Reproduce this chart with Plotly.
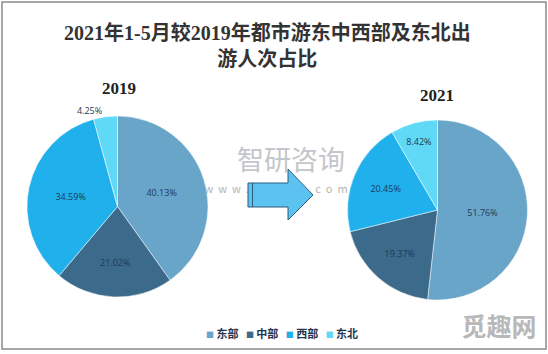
import plotly.graph_objects as go

# ---- data ----
regions = ["东部", "中部", "西部", "东北"]
share_2019 = [40.13, 21.02, 34.59, 4.25]
share_2021 = [51.76, 19.37, 20.45, 8.42]
years = ["2019", "2021"]
colors = ["#68a5c8", "#3c6a8b", "#20b0ec", "#60d9f6"]
title_text = "2021年1-5月较2019年都市游东中西部及东北出<br>游人次占比"

W, H = 548, 354


def px(x):
    return x / W


def py(y):
    return 1 - y / H


label_font = dict(family="Open Sans, Liberation Sans, sans-serif", size=9, color="#1d3a56")

fig = go.Figure()

# watermark (drawn on hidden cartesian axes so shapes can sit above it)
fig.add_trace(go.Scatter(
    x=[291, 276, 499], y=[163, 190, 330],
    mode="text",
    text=["智研咨询", "w  w  w  .  c  h  y  x  x  .  c  o  m", "<b>觅趣网</b>"],
    textfont=dict(family="Noto Sans CJK SC", size=[27, 11, 25],
                  color=["#c3c6ca", "#b4b4b4", "#b8b8b8"]),
    hoverinfo="skip", showlegend=False,
))

fig.add_trace(go.Pie(
    labels=regions, values=share_2019, name=years[0],
    sort=False, direction="clockwise", rotation=0,
    marker=dict(colors=colors, line=dict(color="#ffffff", width=0.5)),
    texttemplate="%{value:.2f}%", textinfo="text",
    textposition=["inside", "inside", "inside", "outside"],
    insidetextorientation="horizontal",
    textfont=label_font, insidetextfont=label_font, outsidetextfont=label_font,
    domain=dict(x=[px(27), px(208)], y=[py(297), py(116)]),
    hoverinfo="label+value", showlegend=False,
))

fig.add_trace(go.Pie(
    labels=regions, values=share_2021, name=years[1],
    sort=False, direction="clockwise", rotation=0,
    marker=dict(colors=colors, line=dict(color="#ffffff", width=0.5)),
    texttemplate="%{value:.2f}%", textinfo="text",
    textposition="inside",
    insidetextorientation="horizontal",
    textfont=label_font, insidetextfont=label_font,
    domain=dict(x=[px(347), px(528)], y=[py(300), py(120)]),
    hoverinfo="label+value", showlegend=False,
))

# arrow
ax = [248, 288, 288, 313, 288, 288, 248]
ay = [183, 183, 169, 195, 220, 207, 207]
path = "M " + " L ".join(f"{px(a):.5f},{py(b):.5f}" for a, b in zip(ax, ay)) + " Z"

shapes = [
    dict(type="rect", xref="paper", yref="paper", x0=px(2), x1=px(546), y0=py(349), y1=py(2),
         line=dict(color="#8a8a8a", width=1.5), fillcolor="rgba(0,0,0,0)", layer="above"),
    dict(type="path", xref="paper", yref="paper", path=path,
         fillcolor="#5cc2f0", line=dict(color="#2d5d7e", width=1), layer="above"),
    dict(type="line", xref="paper", yref="paper", x0=px(252.5), x1=px(252.5), y0=py(207), y1=py(183),
         line=dict(color="#2d5d7e", width=1), layer="above"),
]

# legend built from the category names and colours
legend_text = "&nbsp;&nbsp;&nbsp;".join(
    f"<span style='color:{c};font-size:8px'>■</span> <b>{r}</b>" for r, c in zip(regions, colors)
)

serif = "Liberation Serif, Noto Sans CJK SC, serif"
annotations = [
    dict(text=f"<b>{title_text}</b>", x=px(267), y=py(45.5), xref="paper", yref="paper",
         showarrow=False, xanchor="center", yanchor="middle",
         font=dict(family=serif, size=20, color="#333333")),
    dict(text=f"<b>{years[0]}</b>", x=px(119), y=py(88), xref="paper", yref="paper",
         showarrow=False, xanchor="center", yanchor="middle",
         font=dict(family=serif, size=17, color="#222222")),
    dict(text=f"<b>{years[1]}</b>", x=px(437), y=py(95), xref="paper", yref="paper",
         showarrow=False, xanchor="center", yanchor="middle",
         font=dict(family=serif, size=17, color="#222222")),
    dict(text=legend_text, x=px(281.5), y=py(333), xref="paper", yref="paper",
         showarrow=False, xanchor="center", yanchor="middle",
         font=dict(family="Noto Sans CJK SC", size=11, color="#1f3550")),
]

fig.update_layout(
    width=W, height=H,
    margin=dict(l=0, r=0, t=0, b=0),
    paper_bgcolor="white", plot_bgcolor="rgba(0,0,0,0)",
    xaxis=dict(visible=False, range=[0, W], domain=[0, 1], fixedrange=True),
    yaxis=dict(visible=False, range=[H, 0], domain=[0, 1], fixedrange=True),
    showlegend=False,
    shapes=shapes,
    annotations=annotations,
)

fig.write_html("out.html")
